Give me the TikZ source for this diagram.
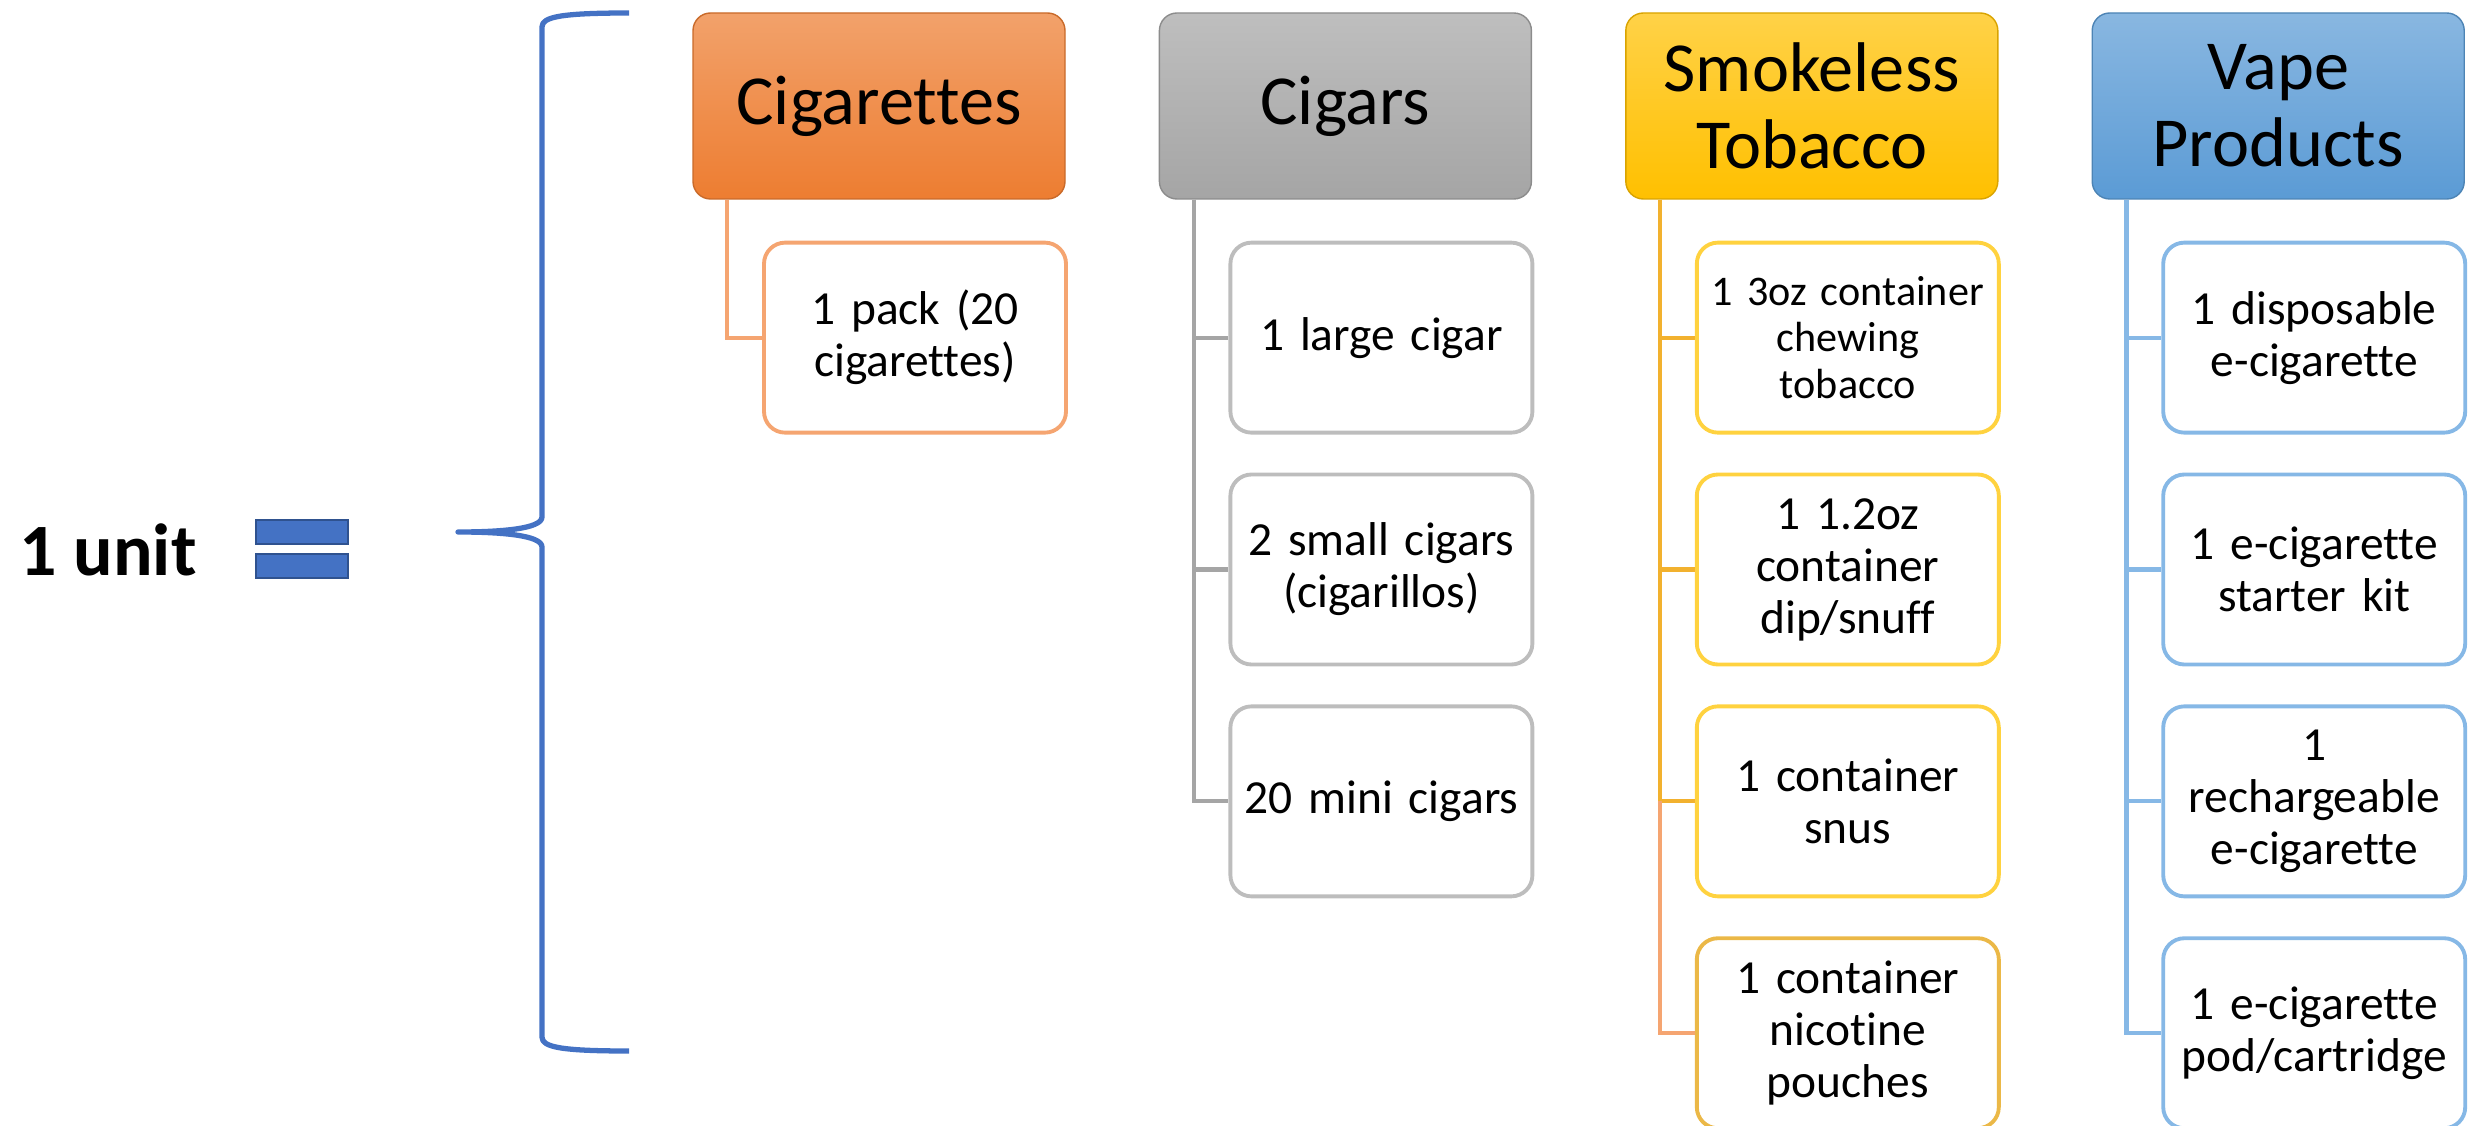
\documentclass[tikz,border=0pt]{standalone}
\usepackage{fontspec}
\setmainfont{Carlito}[Ligatures={NoCommon}]
\usetikzlibrary{positioning,calc}

\definecolor{cigorange}{HTML}{ED7D31}
\definecolor{cigline}{HTML}{F5A571}
\definecolor{cgrgray}{HTML}{A5A5A5}
\definecolor{cgrline}{HTML}{BDBDBD}
\definecolor{smkgold}{HTML}{FFC000}
\definecolor{smkline}{HTML}{F2B12E}
\definecolor{smkedge}{HTML}{FFD23F}
\definecolor{vapeblue}{HTML}{5B9BD5}
\definecolor{vapeline}{HTML}{86B8E6}
\definecolor{bracecol}{HTML}{4472C4}
\definecolor{eqdark}{HTML}{2F528F}

\begin{document}
\begin{tikzpicture}[
    head/.style={draw=#1!85!black, rounded corners=5pt, top color=#1!72!white,
      bottom color=#1, minimum width=3.72cm, minimum height=1.86cm,
      align=center, inner sep=2pt, font=\fontsize{20}{22}\selectfont},
    item/.style={draw=#1, line width=1.1pt, fill=white, rounded corners=6pt,
      text width=2.9cm, inner sep=0.06cm, minimum height=1.9cm, align=center,
      font=\fontsize{13.5}{14.8}\selectfont},
    link/.style={draw=#1, line width=1.2pt},
    eqbar/.style={draw=eqdark, fill=bracecol, line width=0.6pt,
      minimum width=0.92cm, minimum height=0.24cm, inner sep=0pt}
  ]
  \useasboundingbox (0,0) rectangle (24.73,11.25);

  % left side
  \node[anchor=base, font=\fontsize{21}{24}\selectfont\bfseries] (unit) at (1.08,5.50) {1 unit};
  \node[eqbar] (eqtop) at (3.02,5.93) {};
  \node[eqbar] (eqbot) at (3.02,5.59) {};
  \draw[bracecol, line width=1.5pt, line join=round]
    (6.29,11.12) .. controls (5.60,11.12) and (5.42,11.08) .. (5.42,10.98)
    -- (5.42,6.08) .. controls (5.42,5.96) and (5.00,5.93) .. (4.58,5.93)
    .. controls (5.00,5.93) and (5.42,5.90) .. (5.42,5.78)
    -- (5.42,0.88) .. controls (5.42,0.78) and (5.60,0.74) .. (6.29,0.74);

  % headers
  \node[head=cigorange] (cig) at (8.79,10.19) {Cigarettes};
  \node[head=cgrgray, right=0.93cm of cig] (cgr) {Cigars};
  \node[head=smkgold, right=0.93cm of cgr] (smk) {Smokeless\\Tobacco};
  \node[head=vapeblue, right=0.93cm of smk] (vape) {Vape\\Products};

  % cigarettes
  \node[item=cigline, below=0.41cm of cig, xshift=0.36cm] (cig1) {1 pack (20 cigarettes)};

  % cigars
  \node[item=cgrline, below=0.41cm of cgr, xshift=0.36cm] (cgr1) {1 large cigar};
  \node[item=cgrline, below=0.38cm of cgr1] (cgr2) {2 small cigars\\(cigarillos)};
  \node[item=cgrline, below=0.38cm of cgr2] (cgr3) {20 mini cigars};

  % smokeless tobacco
  \node[item=smkedge, below=0.41cm of smk, xshift=0.36cm,
    font=\fontsize{12}{13.2}\selectfont] (smk1) {1 3oz container\\chewing\\tobacco};
  \node[item=smkedge, below=0.38cm of smk1] (smk2) {1 1.2oz\\container\\dip/snuff};
  \node[item=smkedge, below=0.38cm of smk2] (smk3) {1 container\\snus};
  \node[item=smkgold!60!brown!80!white, below=0.38cm of smk3] (smk4) {1 container\\nicotine\\pouches};

  % vape products
  \node[item=vapeline, below=0.41cm of vape, xshift=0.36cm] (vape1) {1 disposable\\e-cigarette};
  \node[item=vapeline, below=0.38cm of vape1] (vape2) {1 e-cigarette\\starter kit};
  \node[item=vapeline, below=0.38cm of vape2] (vape3) {1\\rechargeable\\e-cigarette};
  \node[item=vapeline, below=0.38cm of vape3] (vape4) {1 e-cigarette\\pod/cartridge};

  % connectors
  \coordinate (cigx) at ([xshift=0.35cm]cig.south west);
  \coordinate (cgrx) at ([xshift=0.35cm]cgr.south west);
  \coordinate (smkx) at ([xshift=0.35cm]smk.south west);
  \coordinate (vapex) at ([xshift=0.35cm]vape.south west);
  \draw[link=cigline] (cigx) |- (cig1.west);
  \foreach \n in {cgr1,cgr2,cgr3}
    \draw[link=cgrgray] (cgrx) |- (\n.west);
  \foreach \n in {smk1,smk2,smk3}
    \draw[link=smkline] (smkx) |- (\n.west);
  \draw[link=cigline] (smkx |- smk3.west) |- (smk4.west);
  \foreach \n in {vape1,vape2,vape3,vape4}
    \draw[link=vapeline] (vapex) |- (\n.west);
\end{tikzpicture}
\end{document}
